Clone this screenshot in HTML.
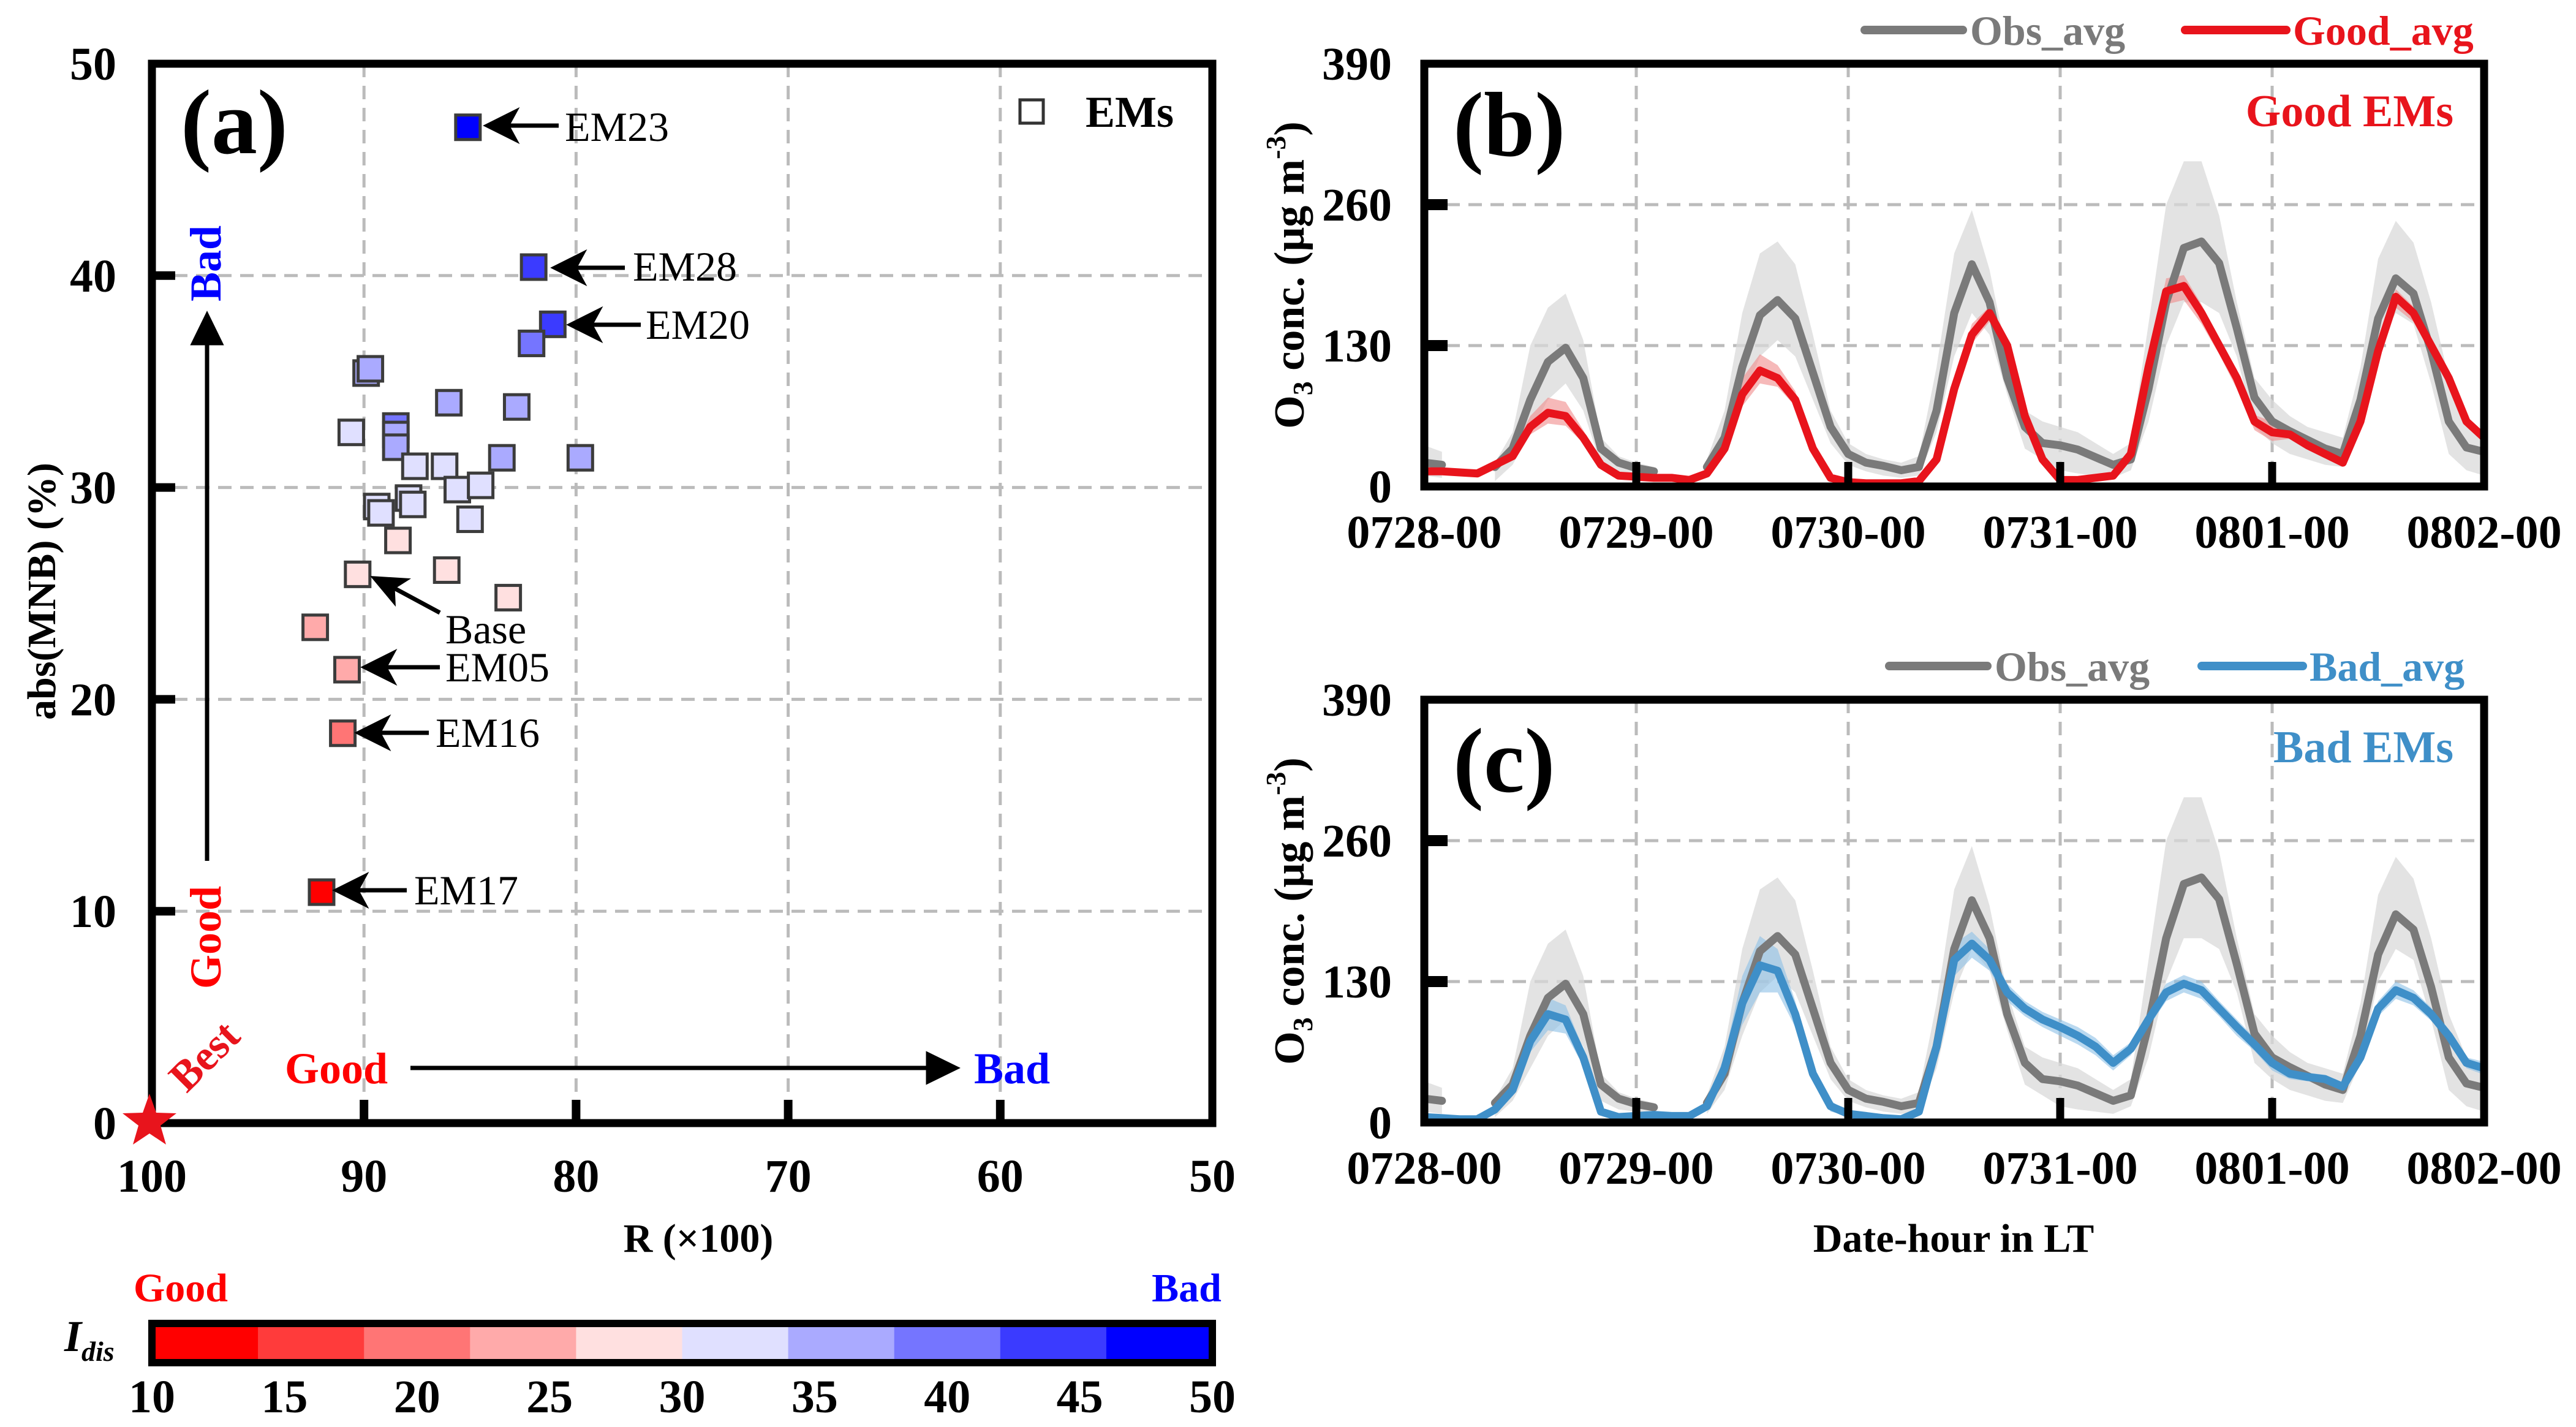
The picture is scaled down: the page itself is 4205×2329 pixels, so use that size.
<!DOCTYPE html>
<html><head><meta charset="utf-8"><style>
html,body{margin:0;padding:0;background:#fff;}
svg{display:block;}
svg text{font-family:"Liberation Serif","DejaVu Serif",serif;}
.tk{font-weight:bold;font-size:76px;}
</style></head><body>
<svg id="fig" width="4205" height="2329" viewBox="0 0 4205 2329" xmlns="http://www.w3.org/2000/svg">
<g id="pa"></g>
<g id="pb"></g>
<g id="pc"></g>
<g id="cb"></g>
</svg>
<script>
// ---------- Panel (a) data ----------
const rVals   = [85.1,82.0,81.1,82.1,89.9,89.7,90.6,88.5,88.5,88.5,86.0,82.8,79.8,83.5,87.6,86.2,85.6,84.5,85.0,89.4,89.2,87.9,87.7,88.4,90.3,86.1,83.2,92.3,90.8,91.0,92.0];
const mnbVals = [47.0,40.4,37.7,36.8,35.4,35.6,32.6,32.9,32.5,31.9,34.0,33.8,31.4,31.4,31.0,31.0,29.9,30.1,28.5,29.1,28.8,29.5,29.2,27.5,25.9,26.1,24.8,23.4,21.4,18.4,10.9];
const idisVals= [48,44,43,40,37,37,33,38,37,36,37,37,37,37,33,33,33,33,33,33,33,33,33,29,29,29,29,25,25,21,11];
const xTicksA = [100,90,80,70,60,50];
const yTicksA = [0,10,20,30,40,50];
const cbTicks = [10,15,20,25,30,35,40,45,50];
const cbColors= ["#ff0000","#ff3b3b","#ff7575","#ffaaaa","#ffe0e0","#e0e0ff","#aaaaff","#7575ff","#3b3bff","#0000ff"];
// ---------- Panels (b),(c) data ----------
const hours   = [0,2,4,6,8,10,12,14,16,18,20,22,24,26,28,30,32,34,36,38,40,42,44,46,48,50,52,54,56,58,60,62,64,66,68,70,72,74,76,78,80,82,84,86,88,90,92,94,96,98,100,102,104,106,108,110,112,114,116,118,120];
const obsAvg  = [22,20,null,null,18,35,80,115,128,100,35,22,17,14,null,null,18,45,110,158,172,155,105,55,30,22,19,15,18,70,160,205,170,100,55,40,38,34,27,20,25,90,170,220,226,206,146,82,60,51,43,35,30,80,155,192,178,125,60,36,32];
const obsHi   = [38,32,null,null,22,50,130,165,178,135,45,28,22,18,null,null,25,70,160,215,226,205,140,70,40,30,25,22,28,110,215,255,200,120,70,60,55,50,40,30,40,150,260,300,300,250,170,100,80,65,55,50,45,110,210,245,225,170,100,60,50];
const obsLo   = [10,8,null,null,5,20,50,80,95,70,20,12,10,8,null,null,8,30,80,120,135,120,80,40,20,14,10,8,10,50,120,160,140,85,35,25,15,12,10,8,15,60,130,170,170,160,120,55,40,30,25,20,18,55,130,160,150,95,30,15,10];
const goodAvg = [14,14,13,12,20,28,55,68,65,45,20,10,9,8,8,6,12,35,85,107,100,80,35,8,4,3,3,3,5,25,90,140,160,130,65,25,6,6,8,10,30,110,180,185,160,130,100,60,50,48,38,30,22,60,125,175,160,130,100,60,45];
const goodHi  = [16,16,15,14,22,32,65,82,78,52,24,12,10,9,9,8,14,42,100,122,112,88,40,10,5,4,4,4,7,30,98,150,166,136,70,28,8,8,9,12,34,118,192,195,168,136,108,66,60,52,42,33,25,66,132,182,166,136,104,64,48];
const goodLo  = [12,12,11,10,18,25,48,58,56,40,17,8,7,6,6,5,10,30,74,95,92,74,30,6,3,2,2,2,4,20,82,132,152,124,60,22,4,4,6,8,26,100,168,172,150,122,90,52,42,44,34,27,19,54,118,165,152,122,94,56,42];
const badAvg  = [5,4,3,3,12,30,75,100,95,60,10,5,6,7,6,6,15,50,110,145,140,100,45,15,8,6,4,3,10,70,150,165,150,120,105,95,88,80,70,55,68,95,120,128,122,105,88,72,55,45,42,40,33,60,105,122,115,100,80,55,50];
const badHi   = [7,6,5,5,15,36,85,115,108,68,14,7,8,9,8,8,18,62,135,172,160,112,52,20,10,8,6,5,13,80,165,176,160,128,112,102,95,88,78,62,74,102,128,136,130,112,95,78,62,50,46,44,36,66,112,130,122,106,86,60,56];
const badLo   = [3,2,2,2,9,25,65,85,82,52,7,3,4,5,4,4,12,40,90,120,120,88,38,10,6,4,2,2,7,60,135,152,140,112,98,88,80,72,62,48,62,88,112,120,114,98,80,66,48,40,38,36,30,54,98,114,108,94,74,50,44];
const dayLabels = ["0728-00","0729-00","0730-00","0731-00","0801-00","0802-00"];
const yTicksT = [0,130,260,390];

const NS="http://www.w3.org/2000/svg";
function mk(tag,parent,attrs){const e=document.createElementNS(NS,tag);for(const k in attrs)e.setAttribute(k,attrs[k]);parent.appendChild(e);return e;}

// ===== Panel A =====
const A={x0:248,x1:1979,y0:1833,y1:104};
const ax=r=>A.x0+(100-r)/50*(A.x1-A.x0);
const ay=m=>A.y0-m/50*(A.y0-A.y1);
const pa=document.getElementById('pa');
xTicksA.slice(1,-1).forEach(t=>{
  const g=mk('line',pa,{x1:ax(t),x2:ax(t),y1:A.y1,y2:A.y0,stroke:'#bbb','stroke-width':5,'stroke-dasharray':'22 14'});
  
  
});
yTicksA.slice(1,-1).forEach(t=>{
  const g=mk('line',pa,{x1:A.x0,x2:A.x1,y1:ay(t),y2:ay(t),stroke:'#bbb','stroke-width':5,'stroke-dasharray':'22 14'});
  
  
});
rVals.forEach((r,i)=>{
  const ci=Math.min(9,Math.max(0,Math.floor((idisVals[i]-10)/4)));
  const s=mk('rect',pa,{x:ax(r)-20,y:ay(mnbVals[i])-20,width:40,height:40,fill:cbColors[ci],stroke:'#3c3c3c','stroke-width':5});
  
  
});
xTicksA.forEach(t=>{
  if(t!==100&&t!==50){const k=mk('line',pa,{x1:ax(t),x2:ax(t),y1:A.y0,y2:A.y0-38,stroke:'#000','stroke-width':14});
  
  }
  const l=mk('text',pa,{x:ax(t),y:1945,'text-anchor':'middle',class:'tk'});l.textContent=t;
  
  
});
yTicksA.forEach(t=>{
  if(t!==0&&t!==50){const k=mk('line',pa,{x1:A.x0,x2:A.x0+38,y1:ay(t),y2:ay(t),stroke:'#000','stroke-width':14});
  
  }
  const l=mk('text',pa,{x:190,y:ay(t)+26,'text-anchor':'end',class:'tk'});l.textContent=t;
  
  
});
const fa=mk('rect',pa,{x:A.x0,y:A.y1,width:A.x1-A.x0,height:A.y0-A.y1,fill:'none',stroke:'#000','stroke-width':13});



// ===== Time panels =====
function timePanel(id,Y0,Y1,name,modelAvg,modelHi,modelLo,col,bandCol,leg,lbl,tag){
  const g=document.getElementById(id);
  const X0=2325,X1=4055;
  const tx=h=>X0+h/120*(X1-X0);
  const ty=v=>Y0-v/390*(Y0-Y1);
  for(let d=1;d<5;d++){const l=mk('line',g,{x1:tx(d*24),x2:tx(d*24),y1:Y1,y2:Y0,stroke:'#bbb','stroke-width':5,'stroke-dasharray':'22 14'});
    
    }
  [130,260].forEach(v=>{const l=mk('line',g,{x1:X0,x2:X1,y1:ty(v),y2:ty(v),stroke:'#bbb','stroke-width':5,'stroke-dasharray':'22 14'});
    
    });
  function band(hi,lo,fill,op){
    let segs=[],cur=[];
    hours.forEach((h,i)=>{if(hi[i]==null){if(cur.length)segs.push(cur);cur=[];}else cur.push(i);});
    if(cur.length)segs.push(cur);
    segs.forEach(s=>{
      let d='M'+s.map(i=>tx(hours[i])+','+ty(hi[i])).join('L')+'L'+s.slice().reverse().map(i=>tx(hours[i])+','+ty(lo[i])).join('L')+'Z';
      const p=mk('path',g,{d:d,fill:fill,'fill-opacity':op});
      
      
    });
  }
  function line(v,c,nm){
    let d='',pen=false;
    hours.forEach((h,i)=>{if(v[i]==null){pen=false;return;}d+=(pen?'L':'M')+tx(h)+','+ty(v[i]);pen=true;});
    const p=mk('path',g,{d:d,fill:'none',stroke:c,'stroke-width':13,'stroke-linejoin':'round','stroke-linecap':'round'});
    
    
  }
  band(obsHi,obsLo,'#d9d9d9',0.75);
  band(modelHi,modelLo,bandCol,0.6);
  line(obsAvg,'#7a7a7a','obs-avg-line');
  line(modelAvg,col,tag+'-avg-line');
  for(let d=1;d<5;d++){const k=mk('line',g,{x1:tx(d*24),x2:tx(d*24),y1:Y0,y2:Y0-40,stroke:'#000','stroke-width':13});
    
    }
  yTicksT.forEach(v=>{
    if(v===130||v===260){const k=mk('line',g,{x1:X0,x2:X0+38,y1:ty(v),y2:ty(v),stroke:'#000','stroke-width':18});
      
      }
    const t=mk('text',g,{x:2272,y:ty(v)+26,'text-anchor':'end',class:'tk'});t.textContent=v;
    
    
  });
  dayLabels.forEach((s,i)=>{const t=mk('text',g,{x:tx(i*24),y:Y0+100,'text-anchor':'middle',class:'tk'});t.textContent=s;
    
    });
  const f=mk('rect',g,{x:X0,y:Y1,width:X1-X0,height:Y0-Y1,fill:'none',stroke:'#000','stroke-width':13});
  
  
  const yt=mk('text',g,{transform:`translate(2128,${(Y0+Y1)/2}) rotate(-90)`,'text-anchor':'middle','font-weight':'bold','font-size':70});
  yt.innerHTML='O<tspan font-size="46" dy="14">3</tspan><tspan dy="-14"> conc. (μg m</tspan><tspan font-size="46" dy="-30">-3</tspan><tspan dy="30">)</tspan>';
  
  
  const pl=mk('text',g,{x:2372,y:Y1+150,'font-weight':'bold','font-size':150});pl.textContent=name;
  
  
  const gl=mk('text',g,{x:4005,y:Y1+102,'text-anchor':'end','font-weight':'bold','font-size':74,fill:col});gl.textContent=lbl;
  
  
  const ly=Y1-55;
  const l1=mk('line',g,{x1:leg[0],x2:leg[0]+160,y1:ly,y2:ly,stroke:'#7a7a7a','stroke-width':14,'stroke-linecap':'round'});
  
  
  const t1=mk('text',g,{x:leg[0]+172,y:ly+24,'font-weight':'bold','font-size':68,fill:'#7a7a7a'});t1.textContent='Obs_avg';
  
  
  const l2=mk('line',g,{x1:leg[1],x2:leg[1]+165,y1:ly,y2:ly,stroke:col,'stroke-width':14,'stroke-linecap':'round'});
  
  
  const t2=mk('text',g,{x:leg[1]+176,y:ly+24,'font-weight':'bold','font-size':68,fill:col});t2.textContent=tag==='good'?'Good_avg':'Bad_avg';
  
  
}
timePanel('pb',794,104,'(b)',goodAvg,goodHi,goodLo,'#e8141c','#f08a8a',[3044,3567],'Good EMs','good');
timePanel('pc',1832,1142,'(c)',badAvg,badHi,badLo,'#3f8fc8','#8cc0e6',[3084,3594],'Bad EMs','bad');
</script>
<script>
const pa2=document.getElementById('pa');
pa2.insertAdjacentHTML('beforeend',`
<text x="295" y="250" font-weight="bold" font-size="150">(a)</text>
<rect x="1665" y="163" width="38" height="38" fill="none" stroke="#333" stroke-width="5"/>
<text x="1772" y="207" font-weight="bold" font-size="72">EMs</text>
<g stroke="#000" stroke-width="7" fill="#000">
<line x1="912" y1="205" x2="820" y2="205"/><polygon points="796,205 840,183 828,205 840,227"/>
<line x1="1020" y1="437" x2="930" y2="437"/><polygon points="906,437 950,415 938,437 950,459"/>
<line x1="1046" y1="530" x2="956" y2="530"/><polygon points="932,530 976,508 964,530 976,552"/>
<line x1="718" y1="1000" x2="640" y2="958"/><polygon points="612,944 660,947 641,959 642,980"/>
<line x1="718" y1="1089" x2="620" y2="1089"/><polygon points="596,1089 640,1067 628,1089 640,1111"/>
<line x1="700" y1="1196" x2="610" y2="1196"/><polygon points="586,1196 630,1174 618,1196 630,1218"/>
<line x1="664" y1="1453" x2="574" y2="1453"/><polygon points="550,1453 594,1431 582,1453 594,1475"/>
<line x1="338" y1="1405" x2="338" y2="540"/><polygon points="338,515 316,560 360,560"/>
<line x1="670" y1="1743" x2="1520" y2="1743"/><polygon points="1560,1743 1515,1721 1515,1765"/>
</g>
<g font-size="68">
<text x="922" y="230">EM23</text>
<text x="1033" y="458">EM28</text>
<text x="1054" y="553">EM20</text>
<text x="727" y="1050">Base</text>
<text x="727" y="1112">EM05</text>
<text x="711" y="1219">EM16</text>
<text x="676" y="1476">EM17</text>
</g>
<text transform="translate(360,430) rotate(-90)" text-anchor="middle" font-weight="bold" font-size="72" fill="#0000ff">Bad</text>
<text transform="translate(360,1530) rotate(-90)" text-anchor="middle" font-weight="bold" font-size="72" fill="#ff0000">Good</text>
<text transform="translate(350,1740) rotate(-45)" text-anchor="middle" font-weight="bold" font-size="70" fill="#e8141c">Best</text>
<text x="549" y="1768" text-anchor="middle" font-weight="bold" font-size="72" fill="#ff0000">Good</text>
<text x="1652" y="1768" text-anchor="middle" font-weight="bold" font-size="72" fill="#0000ff">Bad</text>
<polygon transform="translate(244,1831)" points="0,-46 11,-15 44,-14 18,6 27,37 0,19 -27,37 -18,6 -44,-14 -11,-15" fill="#e8141c"/>
<text x="1140" y="2043" text-anchor="middle" font-weight="bold" font-size="66">R (×100)</text>
<text transform="translate(90,965) rotate(-90)" text-anchor="middle" font-weight="bold" font-size="66">abs(MNB) (%)</text>
<text x="3189" y="2043" text-anchor="middle" font-weight="bold" font-size="66">Date-hour in LT</text>
`);
const cb=document.getElementById('cb');
const CX0=248,CX1=1979,CY0=2160,CY1=2224;
cbColors.forEach((c,i)=>{
  const w=(CX1-CX0)/cbColors.length;
  const r=mk('rect',cb,{x:CX0+i*w,y:CY0,width:w+1,height:CY1-CY0,fill:c});
  
  
});
const cbf=mk('rect',cb,{x:CX0,y:CY0,width:CX1-CX0,height:CY1-CY0,fill:'none',stroke:'#000','stroke-width':12});


cbTicks.forEach((t,i)=>{
  const x=CX0+(t-10)/40*(CX1-CX0);
  const l=mk('text',cb,{x:x,y:2305,'text-anchor':'middle',class:'tk'});l.textContent=t;
  
  
});
cb.insertAdjacentHTML('beforeend',`
<text x="295" y="2124" text-anchor="middle" font-weight="bold" font-size="66" fill="#ff0000">Good</text>
<text x="1937" y="2124" text-anchor="middle" font-weight="bold" font-size="66" fill="#0000ff">Bad</text>
<text x="105" y="2205" font-weight="bold" font-style="italic" font-size="72">I<tspan font-size="46" dy="16">dis</tspan></text>
`);
</script>
</body></html>
